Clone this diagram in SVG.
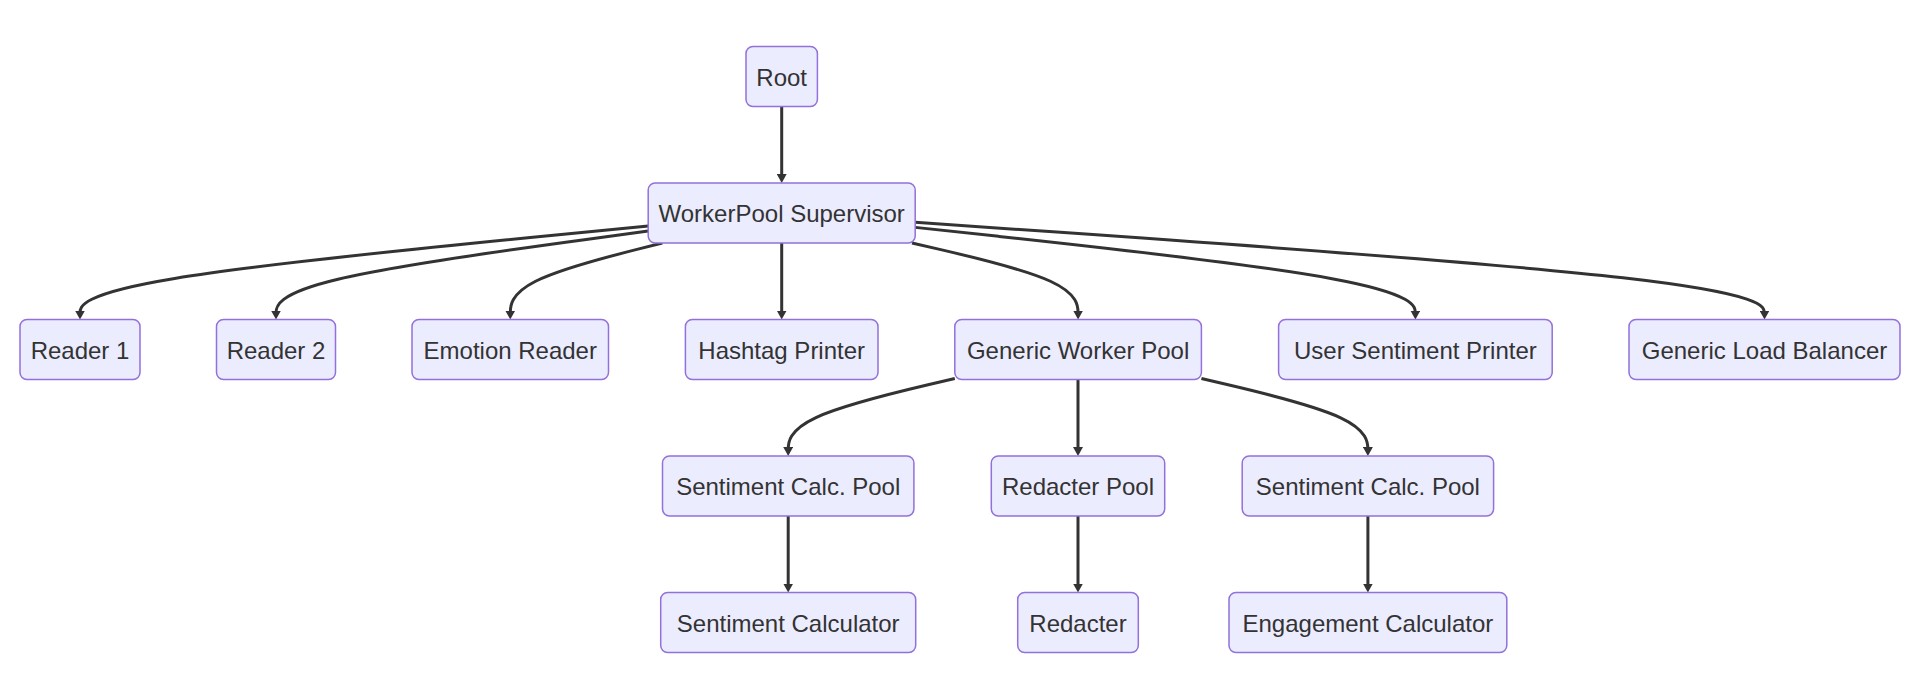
<svg xmlns="http://www.w3.org/2000/svg" width="1920" height="698" viewBox="0 0 1920 698">
<style>
.node rect{fill:#ECECFF;stroke:#9370DB;stroke-width:1.5}
.node text{font-family:"Trebuchet MS","Liberation Sans",Arial,sans-serif;font-size:24px;fill:#333;text-anchor:middle}
.edge{fill:none;stroke:#333;stroke-width:3;marker-end:url(#arrow)}
</style>
<defs>
<marker id="arrow" viewBox="0 0 9 10" markerUnits="userSpaceOnUse" markerWidth="9" markerHeight="10" refX="5" refY="5" orient="auto">
<path d="M0,0 L9,5 L0,10 z" fill="#333"/>
</marker>
</defs>
<rect width="1920" height="698" fill="#fff"/>
<g id="connectors">
<path class="edge" d="M781.7,106.5 L781.7,179"/>
<path class="edge" d="M648.2,225.98 L553.5,235.19 C458.8,244.4 269.4,262.83 174.7,278.41 C80,294 80,306.75 80,313.13 L80,315.5"/>
<path class="edge" d="M648.2,231.02 L586.17,239.39 C524.13,247.76 400.07,264.51 338.03,279.25 C276,294 276,306.75 276,313.13 L276,315.5"/>
<path class="edge" d="M662.37,243 L637.02,249.38 C611.66,255.75 560.96,268.5 535.6,281.25 C510.25,294 510.25,306.75 510.25,313.13 L510.25,315.5"/>
<path class="edge" d="M781.7,243 L781.7,315.5"/>
<path class="edge" d="M911.99,243 L939.67,249.38 C967.36,255.75 1022.73,268.5 1050.41,281.25 C1078.1,294 1078.1,306.75 1078.1,313.13 L1078.1,315.5"/>
<path class="edge" d="M915.2,227.38 L998.57,236.36 C1081.93,245.34 1248.67,263.29 1332.03,278.65 C1415.4,294 1415.4,306.75 1415.4,313.13 L1415.4,315.5"/>
<path class="edge" d="M915.2,222.27 L1056.75,232.1 C1198.3,241.93 1481.4,261.59 1622.95,277.8 C1764.5,294 1764.5,306.75 1764.5,313.13 L1764.5,315.5"/>
<path class="edge" d="M954.8,378.53 L927.03,385.07 C899.27,391.6 843.73,404.68 815.97,417.59 C788.2,430.5 788.2,443.25 788.2,449.63 L788.2,452"/>
<path class="edge" d="M1078,379.5 L1078,452"/>
<path class="edge" d="M1201.4,378.54 L1229.15,385.07 C1256.9,391.6 1312.4,404.69 1340.15,417.59 C1367.9,430.5 1367.9,443.25 1367.9,449.63 L1367.9,452"/>
<path class="edge" d="M788.2,516 L788.2,588.5"/>
<path class="edge" d="M1078,516 L1078,588.5"/>
<path class="edge" d="M1367.9,516 L1367.9,588.5"/>
</g>
<g id="root" class="node"><rect x="746" y="46.5" width="71.4" height="60" rx="7" ry="7"/><text x="781.7" y="85.5">Root</text></g>
<g id="supervisor" class="node"><rect x="648.2" y="183" width="267" height="60" rx="7" ry="7"/><text x="781.7" y="222">WorkerPool Supervisor</text></g>
<g id="reader1" class="node"><rect x="20" y="319.5" width="120" height="60" rx="7" ry="7"/><text x="80" y="358.5">Reader 1</text></g>
<g id="reader2" class="node"><rect x="216.5" y="319.5" width="119" height="60" rx="7" ry="7"/><text x="276" y="358.5">Reader 2</text></g>
<g id="emotionReader" class="node"><rect x="412" y="319.5" width="196.5" height="60" rx="7" ry="7"/><text x="510.25" y="358.5">Emotion Reader</text></g>
<g id="hashtagPrinter" class="node"><rect x="685.4" y="319.5" width="192.6" height="60" rx="7" ry="7"/><text x="781.7" y="358.5">Hashtag Printer</text></g>
<g id="genericWorkerPool" class="node"><rect x="954.8" y="319.5" width="246.6" height="60" rx="7" ry="7"/><text x="1078.1" y="358.5">Generic Worker Pool</text></g>
<g id="userSentimentPrinter" class="node"><rect x="1278.6" y="319.5" width="273.6" height="60" rx="7" ry="7"/><text x="1415.4" y="358.5">User Sentiment Printer</text></g>
<g id="genericLoadBalancer" class="node"><rect x="1629" y="319.5" width="271" height="60" rx="7" ry="7"/><text x="1764.5" y="358.5">Generic Load Balancer</text></g>
<g id="sentimentCalcPool1" class="node"><rect x="662.5" y="456" width="251.4" height="60" rx="7" ry="7"/><text x="788.2" y="495">Sentiment Calc. Pool</text></g>
<g id="redacterPool" class="node"><rect x="991.3" y="456" width="173.4" height="60" rx="7" ry="7"/><text x="1078" y="495">Redacter Pool</text></g>
<g id="sentimentCalcPool2" class="node"><rect x="1242.2" y="456" width="251.4" height="60" rx="7" ry="7"/><text x="1367.9" y="495">Sentiment Calc. Pool</text></g>
<g id="sentimentCalculator" class="node"><rect x="660.7" y="592.5" width="255" height="60" rx="7" ry="7"/><text x="788.2" y="631.5">Sentiment Calculator</text></g>
<g id="redacter" class="node"><rect x="1017.7" y="592.5" width="120.6" height="60" rx="7" ry="7"/><text x="1078" y="631.5">Redacter</text></g>
<g id="engagementCalculator" class="node"><rect x="1229" y="592.5" width="277.8" height="60" rx="7" ry="7"/><text x="1367.9" y="631.5">Engagement Calculator</text></g>
</svg>
